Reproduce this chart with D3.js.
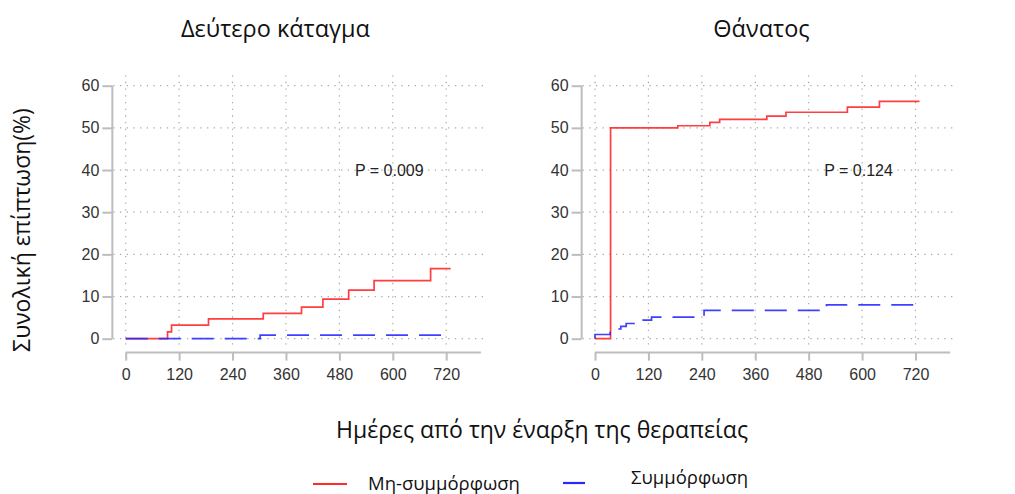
<!DOCTYPE html>
<html><head><meta charset="utf-8">
<script src="https://cdn.jsdelivr.net/npm/d3@7"></script>
<style>body{margin:0;background:#fff}</style>
</head><body><svg id="c" width="1015" height="494"></svg>
<script>
// ---- data ----
const panelTitles = ["Δεύτερο κάταγμα", "Θάνατος"];
const pValues = ["P = 0.009", "P = 0.124"];
const xTicks = [0, 120, 240, 360, 480, 600, 720];
const yTicks = [0, 10, 20, 30, 40, 50, 60];
const seriesNames = ["Μη-συμμόρφωση", "Συμμόρφωση"];
// step points [day, cumulative %]; last point = end of follow-up
const fractureNonAdherent = [[0,0],[94,1.6],[103,3.2],[186,4.7],[309,6.0],[395,7.5],[443,9.4],[501,11.5],[558,13.75],[685,16.6],[730,16.6]];
const fractureAdherent = [[0,0],[302,0.87],[714,0.87]];
const deathNonAdherent = [[0,0],[35,50],[186,50.5],[258,51.3],[280,52.0],[386,52.8],[429,53.7],[567,54.9],[639,56.3],[729,56.3]];
const deathAdherent = [[0,0],[0,1.0],[34,1.7],[50,2.3],[58,2.9],[70,3.6],[108,4.4],[127,5.1],[245,6.7],[520,8.0],[719,8.0]];

const svg = d3.select("#c");
const colors = ["#ff2a2a", "#2a2aff"];
const panels = [
  {title: panelTitles[0], p: pValues[0], data: [fractureNonAdherent, fractureAdherent], x0: 125.7, titleX: 275.5},
  {title: panelTitles[1], p: pValues[1], data: [deathNonAdherent, deathAdherent], x0: 595, titleX: 761.5}
];
const font = "'Liberation Sans', Arial, sans-serif";
const gfont = "'Open Sans', 'Noto Sans', sans-serif";

panels.forEach(pn => {
  const x = d3.scaleLinear().domain([0, 720]).range([pn.x0, pn.x0 + 320.5]);
  const y = d3.scaleLinear().domain([0, 60]).range([338.7, 85.7]);
  const g = svg.append("g");
  // grid
  g.selectAll(".hg").data(yTicks).join("line")
    .attr("x1", x(-28)).attr("x2", x(810)).attr("y1", d => y(d)).attr("y2", d => y(d))
    .attr("stroke", "#a8a8a8").attr("stroke-width", 1.2).attr("stroke-dasharray", "1.3,5.4");
  g.selectAll(".vg").data(xTicks).join("line")
    .attr("x1", d => x(d)).attr("x2", d => x(d)).attr("y1", y(62.5)).attr("y2", y(-1.9))
    .attr("stroke", "#a8a8a8").attr("stroke-width", 1.2).attr("stroke-dasharray", "1.3,5.4");
  // y axis
  const ya = g.append("g").attr("transform", `translate(${x(-30)},0)`)
    .call(d3.axisLeft(y).tickValues(yTicks).tickSize(10).tickPadding(3));
  ya.select(".domain").attr("d", `M0,${y(60)}V${y(0)}`);
  // x axis
  const xa = g.append("g").attr("transform", `translate(0,${y(-3.3)})`)
    .call(d3.axisBottom(x).tickValues(xTicks).tickSize(8).tickPadding(8));
  xa.select(".domain").attr("d", `M${x(0)},0H${x(798)}`);
  [ya, xa].forEach(a => {
    a.selectAll(".domain, line").attr("stroke", "#bdbdbd").attr("stroke-width", 2);
    a.selectAll("text").attr("fill", "#333").attr("font-size", 16).attr("font-family", font);
  });
  // curves
  const line = d3.line().x(d => x(d[0])).y(d => y(d[1])).curve(d3.curveStepAfter);
  pn.data.forEach((s, i) => {
    g.append("path").datum(s).attr("d", line).attr("fill", "none")
      .attr("stroke", colors[i]).attr("stroke-width", 1.7).attr("stroke-opacity", 0.9)
      .attr("stroke-dasharray", i === 1 ? "22,11" : null);
  });
  // P value
  g.append("text").attr("x", x(515)).attr("y", y(40)).attr("dy", "0.36em")
    .attr("font-family", font).attr("font-size", 16).attr("fill", "#222").text(pn.p);
  // title
  svg.append("text").attr("x", pn.titleX).attr("y", 37).attr("text-anchor", "middle")
    .attr("font-family", gfont).attr("font-size", 23.5).attr("fill", "#111").text(pn.title);
});

// axis titles
svg.append("text").attr("x", 542).attr("y", 438).attr("text-anchor", "middle")
  .attr("font-family", gfont).attr("font-size", 23).attr("fill", "#111")
  .text("Ημέρες από την έναρξη της θεραπείας");
svg.append("text").attr("transform", "translate(30,230) rotate(-90)").attr("text-anchor", "middle")
  .attr("font-family", gfont).attr("font-size", 23).attr("fill", "#111")
  .text("Συνολική επίπτωση(%)");

// legend
const legend = [
  {name: seriesNames[0], color: colors[0], lx1: 313, lx2: 347, ly: 484, tx: 368, ty: 490},
  {name: seriesNames[1], color: colors[1], lx1: 563, lx2: 585, ly: 483, tx: 631, ty: 484}
];
legend.forEach(l => {
  svg.append("line").attr("x1", l.lx1).attr("x2", l.lx2).attr("y1", l.ly).attr("y2", l.ly)
    .attr("stroke", l.color).attr("stroke-width", 2.2);
  svg.append("text").attr("x", l.tx).attr("y", l.ty).attr("font-family", gfont)
    .attr("font-size", 18.5).attr("fill", "#111").text(l.name);
});
</script></body></html>
